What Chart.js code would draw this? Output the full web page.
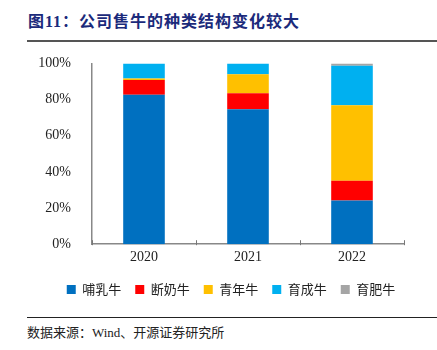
<!DOCTYPE html>
<html lang="zh">
<head>
  <meta charset="UTF-8" />
  <title>公司售牛的种类结构变化较大</title>
  <style>
    html, body { margin: 0; padding: 0; background: #fff; }
    body { width: 437px; height: 350px; position: relative; overflow: hidden; }
    .title {
      position: absolute; left: 28px; top: 8px;
      font: bold 16px "Liberation Serif", "Noto Sans CJK SC", sans-serif;
      color: #1b2a7b; letter-spacing: 1px;
    }
    .rule-top { position: absolute; left: 27px; right: 0; top: 40px; border-top: 2px solid #555; }
    .chart-box { position: absolute; left: 0; top: 42px; width: 437px; height: 264px; }
    .rule-bottom { position: absolute; left: 27px; right: 0; top: 317px; border-top: 1px solid #222; }
    .source {
      position: absolute; left: 27px; top: 322px;
      font: 13px "Liberation Serif", "Noto Sans CJK SC", serif; color: #222;
    }
  </style>
</head>
<body>
  <div class="title">图11：公司售牛的种类结构变化较大</div>
  <div class="rule-top"></div>
  <div class="chart-box"><canvas id="chart"></canvas></div>
  <div class="rule-bottom"></div>
  <div class="source">数据来源：Wind、开源证券研究所</div>

  <script src="https://cdn.jsdelivr.net/npm/chart.js"></script>
  <script>
    const years = ["2020", "2021", "2022"];
    const seriesNames = ["哺乳牛", "断奶牛", "青年牛", "育成牛", "育肥牛"];
    const suckling = [82.6, 74.7, 24.2];
    const weaned = [8.2, 8.8, 10.9];
    const young = [0.9, 10.5, 41.8];
    const growing = [8.3, 6.0, 21.8];
    const fattening = [0, 0, 1.3];
    const yTicks = [0, 20, 40, 60, 80, 100];

    const colors = ["#0070c0", "#ff0000", "#ffc000", "#00b0f0", "#a5a5a5"];
    const values = [suckling, weaned, young, growing, fattening];

    // small inward tick marks at the category boundaries of the x axis
    const boundaryTicks = {
      id: "boundaryTicks",
      afterDraw(chart) {
        const x = chart.scales.x;
        const ctx = chart.ctx;
        const step = x.getPixelForValue(1) - x.getPixelForValue(0);
        ctx.save();
        ctx.strokeStyle = "#777";
        ctx.lineWidth = 1;
        for (let i = 0; i <= years.length; i++) {
          const px = Math.round(x.getPixelForValue(0) - step / 2 + i * step) + 0.5;
          ctx.beginPath();
          ctx.moveTo(px, x.top - 4);
          ctx.lineTo(px, x.top + 1);
          ctx.stroke();
        }
        ctx.restore();
      }
    };

    // the original legend sits a bit right of the canvas centre
    const legendShift = {
      id: "legendShift",
      afterLayout(chart) {
        chart.legend.left += 29;
        chart.legend.right += 29;
      }
    };

    new Chart(document.getElementById("chart"), {
      type: "bar",
      data: {
        labels: years,
        datasets: seriesNames.map((name, i) => ({
          label: name,
          data: values[i],
          backgroundColor: colors[i],
          borderWidth: 0,
          barPercentage: 0.4,
          categoryPercentage: 1
        }))
      },
      options: {
        responsive: true,
        maintainAspectRatio: false,
        animation: false,
        layout: { padding: { top: 6, right: 33, bottom: 0, left: 0 } },
        scales: {
          x: {
            stacked: true,
            afterFit: scale => { scale.height += 6; },
            grid: { display: false },
            border: { color: "#888", width: 1.5 },
            ticks: {
              color: "#222",
              padding: -3,
              font: { family: "Liberation Serif", size: 14 }
            }
          },
          y: {
            stacked: true,
            min: 0,
            max: 100,
            afterFit: scale => { scale.width = 92; },
            afterBuildTicks: scale => { scale.ticks = yTicks.map(v => ({ value: v })); },
            grid: { display: false },
            border: { color: "#888", width: 1.5 },
            ticks: {
              color: "#222",
              padding: 13,
              font: { family: "Liberation Serif", size: 14 },
              callback: v => v + "%"
            }
          }
        },
        plugins: {
          legend: {
            position: "bottom",
            labels: {
              boxWidth: 9,
              boxHeight: 9,
              padding: 14,
              color: "#222",
              font: { family: "Noto Sans CJK SC", size: 13 }
            }
          },
          tooltip: { enabled: false }
        }
      },
      plugins: [boundaryTicks, legendShift]
    });
  </script>
</body>
</html>
